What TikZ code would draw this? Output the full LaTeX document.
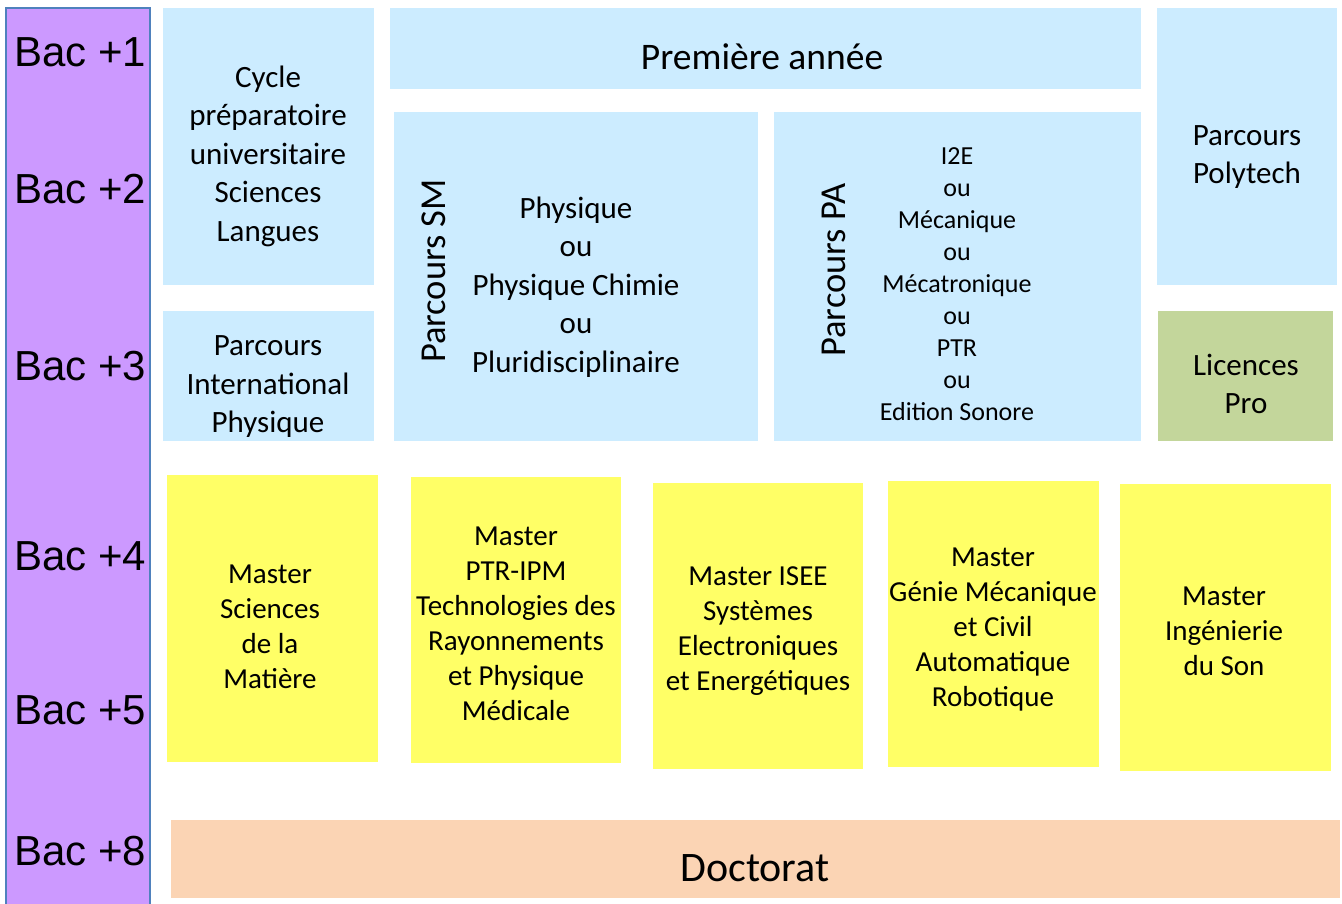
\documentclass[tikz,border=0pt]{standalone}
\usepackage{fontspec}
\setmainfont{Carlito}
\newfontfamily\arialfont{Liberation Sans}
\definecolor{barfill}{HTML}{CC99FF}
\definecolor{barline}{HTML}{4F81BD}
\definecolor{licfill}{HTML}{CCECFF}
\definecolor{profill}{HTML}{C3D69B}
\definecolor{masfill}{HTML}{FFFF66}
\definecolor{docfill}{HTML}{FBD4B4}
\tikzset{
  level/.style={font=\arialfont\fontsize{42}{44}\selectfont, inner sep=0pt},
  txt/.style={align=center, inner sep=0pt, font=\fontsize{31}{38.5}\selectfont},
  txtsmall/.style={align=center, inner sep=0pt, font=\fontsize{26}{32}\selectfont},
  txtmaster/.style={align=center, inner sep=0pt, font=\fontsize{29}{35}\selectfont},
  txtside/.style={inner sep=0pt, rotate=90, font=\fontsize{36.5}{40}\selectfont},
}
\begin{document}
\begin{tikzpicture}[x=1pt, y=-1pt]
\useasboundingbox (0,0) rectangle (1342,903);

% level bar
\fill[barfill] (6,8) rectangle (150,910);
\draw[barline, line width=2pt] (6,910) -- (6,8) -- (150,8) -- (150,910);
\node[level] (b1) at (80,52) {Bac +1};
\node[level] (b2) at (80,189) {Bac +2};
\node[level] (b3) at (80,366) {Bac +3};
\node[level] (b4) at (80,556) {Bac +4};
\node[level] (b5) at (80,710) {Bac +5};
\node[level] (b8) at (80,851) {Bac +8};

% licence years
\fill[licfill] (163,8) rectangle (374,285);
\fill[licfill] (390,8) rectangle (1141,89);
\fill[licfill] (1157,8) rectangle (1337,285);
\fill[licfill] (394,112) rectangle (758,441);
\fill[licfill] (774,112) rectangle (1141,441);
\fill[licfill] (163,311) rectangle (374,441);
\fill[profill] (1158,311) rectangle (1333,441);

\node[txt] (cycle) at (268,156) {Cycle\\préparatoire\\universitaire\\Sciences\\Langues};
\node[txt, font=\fontsize{37.5}{40}\selectfont] (pa) at (762,57) {Première année};
\node[txt] (poly) at (1247,157) {Parcours\\Polytech};
\node[txt] (inter) at (268,387) {Parcours\\International\\Physique};
\node[txt] (lp) at (1246,384) {Licences\\Pro};

\node[txtside] (sm) at (434,271) {Parcours SM};
\node[txt] (smtext) at (576,287) {Physique\\ou\\Physique Chimie\\ou\\Pluridisciplinaire};
\node[txtside] (pap) at (834,270) {Parcours PA};
\node[txtsmall] (patext) at (957,284) {I2E\\ou\\Mécanique\\ou\\Mécatronique\\ou\\PTR\\ou\\Edition Sonore};

% masters
\fill[masfill] (167,475) rectangle (378,762);
\fill[masfill] (411,477) rectangle (621,763);
\fill[masfill] (653,483) rectangle (863,769);
\fill[masfill] (888,481) rectangle (1099,767);
\fill[masfill] (1120,484) rectangle (1331,771);

\node[txtmaster] (m1) at (270,627) {Master\\Sciences\\de la\\Matière};
\node[txtmaster] (m2) at (516,624) {Master\\PTR-IPM\\Technologies des\\Rayonnements\\et Physique\\Médicale};
\node[txtmaster] (m3) at (758,631) {Master ISEE\\Systèmes\\Electroniques\\et Energétiques};
\node[txtmaster] (m4) at (993,630) {Master\\Génie Mécanique\\et Civil\\Automatique\\Robotique};
\node[txtmaster] (m5) at (1224,631) {Master\\Ingénierie\\du Son};

% doctorate
\fill[docfill] (171,820) rectangle (1340,898);
\node[txt, font=\fontsize{42}{46}\selectfont] (doc) at (755,868) {Doctorat};
\end{tikzpicture}
\end{document}
